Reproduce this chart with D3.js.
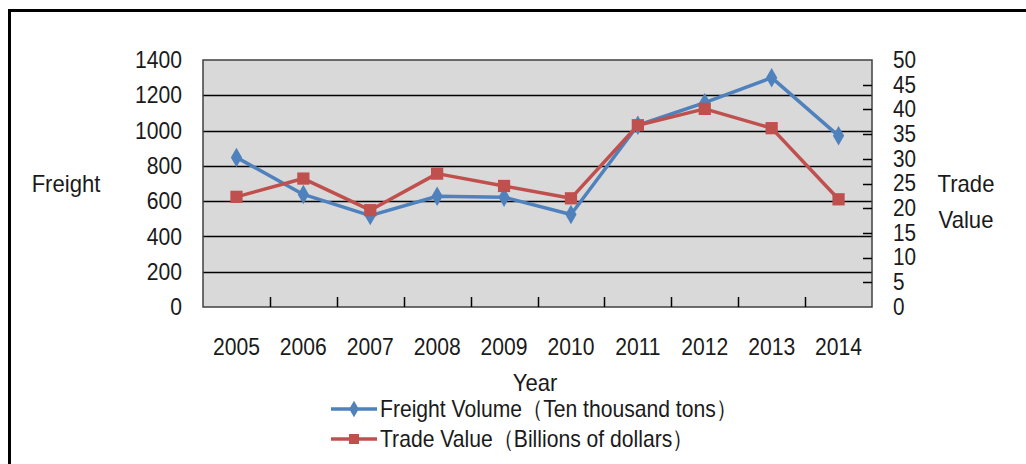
<!DOCTYPE html>
<html>
<head>
<meta charset="utf-8">
<script src="https://cdn.jsdelivr.net/npm/d3@7"></script>
<style>
  html, body { margin: 0; padding: 0; background: #fff; }
  svg { display: block; }
  text { font-family: "Liberation Sans", Arial, sans-serif; fill: #1a1a1a; }
</style>
</head>
<body>
<svg id="chart" width="1026" height="464"></svg>
<script>
// Years on the category axis
const years = ["2005","2006","2007","2008","2009","2010","2011","2012","2013","2014"];
// Freight volume, ten thousand tons (left axis)
const freightVolume = [848, 638, 518, 628, 622, 524, 1030, 1158, 1300, 970];
// Trade value, billions of dollars (right axis)
const tradeValue = [22.3, 26.0, 19.6, 27.0, 24.5, 22.0, 36.8, 40.1, 36.2, 21.8];
// Axis tick values
const leftTicks = [0, 200, 400, 600, 800, 1000, 1200, 1400];
const rightTicks = [0, 5, 10, 15, 20, 25, 30, 35, 40, 45, 50];
const seriesNames = ["Freight Volume\uFF08Ten thousand tons\uFF09", "Trade Value\uFF08Billions of dollars\uFF09"];

const svg = d3.select("#chart");
const plot = { left: 203, right: 872, top: 60, bottom: 307 };
const blue = "#4F81BD", red = "#C0504D";
const fontSize = 24;

// narrow the glyphs for a condensed face
function squeeze(sel, k) {
  sel.each(function () {
    const len = this.getComputedTextLength();
    d3.select(this).attr("textLength", len * k).attr("lengthAdjust", "spacingAndGlyphs");
  });
}

// outer frame (only top and left edges fall inside the canvas)
svg.append("path")
  .attr("d", "M9.5,1000 V10.5 H1100")
  .attr("fill", "none").attr("stroke", "#000").attr("stroke-width", 3);

const x = d3.scaleBand().domain(years).range([plot.left, plot.right]).padding(0);
const yL = d3.scaleLinear().domain([0, 1400]).range([plot.bottom, plot.top]);
const yR = d3.scaleLinear().domain([0, 50]).range([plot.bottom, plot.top]);

// plot background
svg.append("rect")
  .attr("x", plot.left).attr("y", plot.top)
  .attr("width", plot.right - plot.left).attr("height", plot.bottom - plot.top)
  .attr("fill", "#D9D9D9");

// horizontal gridlines
svg.append("g").selectAll("line")
  .data(leftTicks.filter(d => d > 0 && d < 1400))
  .join("line")
  .attr("x1", plot.left).attr("x2", plot.right)
  .attr("y1", d => Math.round(yL(d)) + 0.5).attr("y2", d => Math.round(yL(d)) + 0.5)
  .attr("stroke", "#000").attr("stroke-width", 1.6);

// plot border
svg.append("rect")
  .attr("x", plot.left).attr("y", plot.top)
  .attr("width", plot.right - plot.left).attr("height", plot.bottom - plot.top)
  .attr("fill", "none").attr("stroke", "#404040").attr("stroke-width", 1.5);

// x axis: inner tick marks at category boundaries
const xAxis = d3.axisBottom(x).tickSize(0).tickPadding(31);
const gx = svg.append("g").attr("transform", `translate(0,${plot.bottom})`).call(xAxis);
gx.select(".domain").remove();
gx.selectAll("text").attr("font-size", fontSize).attr("font-family", null).attr("fill", "#1a1a1a")
  .call(squeeze, 0.88);
svg.append("g").selectAll("line")
  .data(years.slice(1))
  .join("line")
  .attr("x1", d => Math.round(x(d)) + 0.5).attr("x2", d => Math.round(x(d)) + 0.5)
  .attr("y1", plot.bottom).attr("y2", plot.bottom - 10)
  .attr("stroke", "#000").attr("stroke-width", 1.5);

// left axis labels
const gl = svg.append("g").attr("transform", `translate(${plot.left},0)`)
  .call(d3.axisLeft(yL).tickValues(leftTicks).tickFormat(d3.format("d")).tickSize(0).tickPadding(21));
gl.select(".domain").remove();
gl.selectAll("text").attr("font-size", fontSize).attr("font-family", null).attr("fill", "#1a1a1a")
  .call(squeeze, 0.88);

// right axis labels and inner tick marks
const gr = svg.append("g").attr("transform", `translate(${plot.right},0)`)
  .call(d3.axisRight(yR).tickValues(rightTicks).tickSize(0).tickPadding(21));
gr.select(".domain").remove();
gr.selectAll("text").attr("font-size", fontSize - 1).attr("font-family", null).attr("fill", "#1a1a1a")
  .call(squeeze, 0.9);
svg.append("g").selectAll("line")
  .data(rightTicks.filter(d => d > 0 && d < 50))
  .join("line")
  .attr("x1", plot.right).attr("x2", plot.right - 9)
  .attr("y1", d => Math.round(yR(d)) + 0.5).attr("y2", d => Math.round(yR(d)) + 0.5)
  .attr("stroke", "#000").attr("stroke-width", 1.5);

// axis titles
const titles = svg.append("g");
titles.append("text").attr("x", 66).attr("y", 184).attr("dy", "0.35em")
  .attr("text-anchor", "middle").attr("font-size", fontSize).text("Freight");
titles.append("text").attr("x", 966).attr("y", 184).attr("dy", "0.35em")
  .attr("text-anchor", "middle").attr("font-size", fontSize).text("Trade");
titles.append("text").attr("x", 966).attr("y", 220).attr("dy", "0.35em")
  .attr("text-anchor", "middle").attr("font-size", fontSize).text("Value");
titles.append("text").attr("x", 535).attr("y", 383).attr("dy", "0.35em")
  .attr("text-anchor", "middle").attr("font-size", fontSize).text("Year");
titles.selectAll("text").call(squeeze, 0.92);

const cx = d => x(d) + x.bandwidth() / 2;
const diamond = d3.symbol().type(d3.symbolDiamond).size(110);
const square = d3.symbol().type(d3.symbolSquare).size(150);

// freight volume line
svg.append("path")
  .datum(freightVolume)
  .attr("fill", "none").attr("stroke", blue).attr("stroke-width", 3.5)
  .attr("stroke-linejoin", "round")
  .attr("d", d3.line().x((d, i) => cx(years[i])).y(d => yL(d)));
svg.append("g").selectAll("path")
  .data(freightVolume)
  .join("path")
  .attr("transform", (d, i) => `translate(${cx(years[i])},${yL(d)})`)
  .attr("d", diamond).attr("fill", blue);

// trade value line
svg.append("path")
  .datum(tradeValue)
  .attr("fill", "none").attr("stroke", red).attr("stroke-width", 3.5)
  .attr("stroke-linejoin", "round")
  .attr("d", d3.line().x((d, i) => cx(years[i])).y(d => yR(d)));
svg.append("g").selectAll("path")
  .data(tradeValue)
  .join("path")
  .attr("transform", (d, i) => `translate(${cx(years[i])},${yR(d)})`)
  .attr("d", square).attr("fill", red);

// legend
const legend = svg.append("g");
const legendRows = [
  { name: seriesNames[0], color: blue, symbol: d3.symbol().type(d3.symbolDiamond).size(80), y: 409 },
  { name: seriesNames[1], color: red, symbol: d3.symbol().type(d3.symbolSquare).size(100), y: 439 }
];
legendRows.forEach(r => {
  legend.append("line").attr("x1", 331).attr("x2", 377).attr("y1", r.y).attr("y2", r.y)
    .attr("stroke", r.color).attr("stroke-width", 3.5);
  legend.append("path").attr("transform", `translate(354,${r.y})`).attr("d", r.symbol).attr("fill", r.color);
  legend.append("text").attr("x", 380).attr("y", r.y).attr("dy", "0.35em")
    .attr("font-size", fontSize).text(r.name);
});
legend.selectAll("text").call(squeeze, 0.88);
</script>
</body>
</html>
